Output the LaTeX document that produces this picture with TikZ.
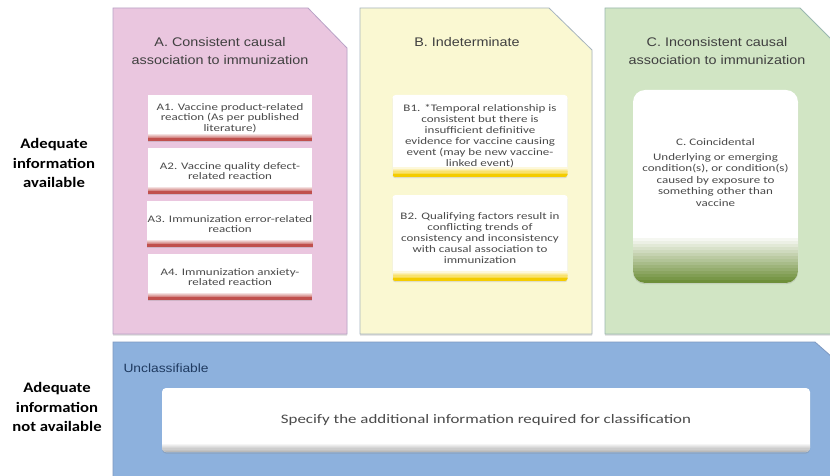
\documentclass[tikz,border=0pt]{standalone}
\usepackage{fontspec}
\setmainfont{Carlito}[FakeStretch=1.15]
\newfontfamily\headfont{Liberation Sans}[FakeStretch=1.15]
\newfontfamily\boxfont{Carlito}[FakeStretch=1.3]
\usetikzlibrary{shadows,positioning}

\definecolor{apink}{HTML}{EAC6DF}
\definecolor{apinkline}{HTML}{B8A2C6}
\definecolor{byellow}{HTML}{FAF8D2}
\definecolor{byellowline}{HTML}{A6B4BE}
\definecolor{cgreen}{HTML}{D1E5C4}
\definecolor{cgreenline}{HTML}{9AB8B0}
\definecolor{dblue}{HTML}{8DB1DD}
\definecolor{dblueline}{HTML}{7E98C0}
\definecolor{redband}{HTML}{C0504D}
\definecolor{yellowband}{HTML}{F4CC00}
\definecolor{greenband}{HTML}{6E8F3A}
\definecolor{headgray}{HTML}{404040}
\definecolor{boxgray}{HTML}{4A4A4A}
\definecolor{navy}{HTML}{1F3A60}
\colorlet{ugray}{gray!55}

% stacked strips, white at the top to full colour at the bottom of the node
\newcommand{\gradband}[3]{%
  \foreach \k in {1,...,#2}{%
    \fill[sharp corners, #1!\fpeval{round(\k*100/#2)}!white]
      ([yshift={(#2+1-\k)*#3}]path picture bounding box.south west) rectangle
      ([yshift={(#2-\k)*#3-0.4pt}]path picture bounding box.south east);}}

\tikzset{
  panel/.style={line width=0.8pt, drop shadow={opacity=0.3, shadow xshift=0pt, shadow yshift=-1.5pt}},
  head/.style={font=\headfont\fontsize{12.5}{18}\selectfont, text=headgray, align=center},
  side/.style={font=\bfseries\fontsize{14.5}{19.5}\selectfont, align=center},
  abox/.style={rectangle, fill=white, minimum width=164pt, minimum height=46pt, inner sep=1pt,
    align=center, font=\boxfont\fontsize{10}{10.5}\selectfont, text=boxgray,
    drop shadow={opacity=0.25, shadow xshift=0pt, shadow yshift=-1.2pt},
    path picture={\gradband{redband}{6}{1.2pt}
      \fill[redband] ([yshift=3pt]path picture bounding box.south west) rectangle (path picture bounding box.south east);}},
  bbox/.style={rectangle, rounded corners=3pt, fill=white, minimum width=175pt, inner sep=1pt,
    align=center, font=\boxfont\fontsize{10}{11}\selectfont, text=boxgray,
    drop shadow={opacity=0.25, shadow xshift=0pt, shadow yshift=-1.2pt},
    path picture={\gradband{yellowband}{7}{1.4pt}
      \fill[sharp corners, yellowband] ([yshift=3.5pt]path picture bounding box.south west) rectangle (path picture bounding box.south east);}},
  cbox/.style={rectangle, rounded corners=12pt, fill=white, minimum width=165pt, minimum height=193pt,
    drop shadow={opacity=0.25, shadow xshift=0pt, shadow yshift=-1.2pt},
    path picture={\gradband{greenband}{15}{3pt}}},
  ubox/.style={rectangle, rounded corners=4pt, fill=white, minimum width=648pt, minimum height=64pt,
    font=\boxfont\fontsize{13}{15}\selectfont, text=boxgray,
    drop shadow={opacity=0.3, shadow xshift=0pt, shadow yshift=-1.5pt},
    path picture={\gradband{ugray}{7}{1.2pt}}},
  btext/.style={font=\boxfont\fontsize{10}{11.5}\selectfont, text=boxgray, align=center}
}

\begin{document}
\begin{tikzpicture}[x=1pt,y=-1pt]
  \useasboundingbox[fill=white] (0,0) rectangle (830,476);
  % the three columns and the bottom band
  \draw[panel, fill=apink, draw=apinkline] (113,8) -- (308,8) -- (347,48) -- (347,334) -- (113,334) -- cycle;
  \draw[panel, fill=byellow, draw=byellowline] (360,8) -- (549,8) -- (592,50) -- (592,334) -- (360,334) -- cycle;
  \draw[panel, fill=cgreen, draw=cgreenline] (605,8) -- (800,8) -- (832,40) -- (832,334) -- (605,334) -- cycle;
  \draw[panel, fill=dblue, draw=dblueline] (113,342) -- (815,342) -- (832,357) -- (832,480) -- (113,480) -- cycle;

  % row labels
  \node[side] (avail) at (54,163) {Adequate\\information\\available};
  \node[side] (notavail) at (57,407) {Adequate\\information\\not available};

  % column headings
  \node[head] (ahead) at (220,51) {A.\ Consistent causal\\association to immunization};
  \node[head] (bhead) at (467,42) {B.\ Indeterminate};
  \node[head] (chead) at (717,51) {C.\ Inconsistent causal\\association to immunization};

  % A
  \node[abox] (a1) at (230,118) {A1. Vaccine product-related\\reaction (As per published\\literature)};
  \node[abox] (a2) at (230,171) {A2. Vaccine quality defect-\\related reaction};
  \node[abox] (a3) at (230,224) {A3. Immunization error-related\\reaction};
  \node[abox] (a4) at (230,277) {A4. Immunization anxiety-\\related reaction};

  % B
  \node[bbox, minimum height=82pt] (b1) at (480,136) {B1. *Temporal relationship is\\consistent but there is\\insufficient definitive\\evidence for vaccine causing\\event (may be new vaccine-\\linked event)};
  \node[bbox, minimum height=86pt] (b2) at (480,238) {B2. Qualifying factors result in\\conflicting trends of\\consistency and inconsistency\\with causal association to\\immunization};

  % C
  \node[cbox] (c) at (715.5,186.5) {};
  \node[btext] (ctext) at (c.center) [yshift=14pt] {C. Coincidental\\[3pt]Underlying or emerging\\condition(s), or condition(s)\\caused by exposure to\\something other than\\vaccine};

  % unclassifiable
  \node[font=\headfont\fontsize{12}{14}\selectfont, text=navy, anchor=west] (uncl) at (120,368) {Unclassifiable};
  \node[ubox] (spec) at (486,420) {Specify the additional information required for classification};
\end{tikzpicture}
\end{document}
